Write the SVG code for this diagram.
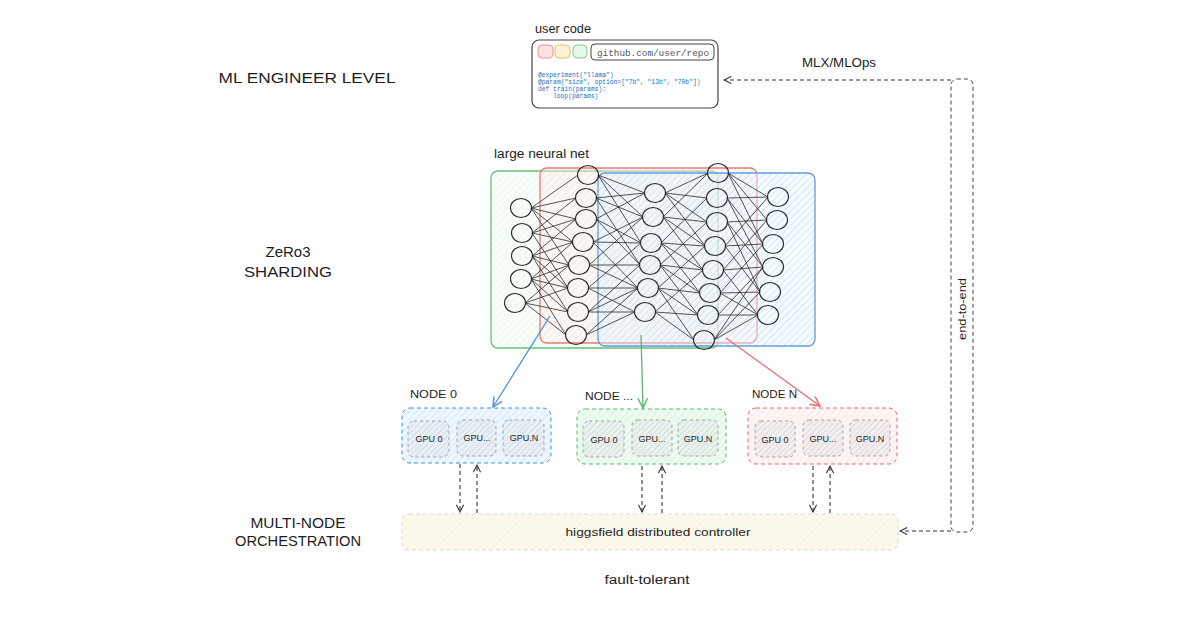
<svg xmlns="http://www.w3.org/2000/svg" width="1200" height="630" viewBox="0 0 1200 630">
<style>
.t{font-family:"Liberation Sans","DejaVu Sans",sans-serif;fill:#1e1e1e}
.m{font-family:"Liberation Mono","DejaVu Sans Mono",monospace}
.nn{fill:none;stroke:#2b2b2b;stroke-width:1;stroke-opacity:0.8}
.neu{fill:none;stroke:#2b2b2b;stroke-width:1.1}
.dash{fill:none;stroke:#333;stroke-width:1.1;stroke-dasharray:4 3}
.gpu{fill:url(#hGray);stroke:#9a9a9a;stroke-width:0.9;stroke-dasharray:3 3}
</style>
<defs>
<pattern id="hG" width="5" height="5" patternUnits="userSpaceOnUse" patternTransform="rotate(45)"><rect width="5" height="5" fill="#f3fbf4" fill-opacity="0.5"/><line x1="0" y1="0" x2="0" y2="5" stroke="#b2f2bb" stroke-width="0.8" stroke-opacity="0.7"/></pattern>
<pattern id="hR" width="5" height="5" patternUnits="userSpaceOnUse" patternTransform="rotate(45)"><rect width="5" height="5" fill="#fff5f5" fill-opacity="0.4"/><line x1="2" y1="0" x2="2" y2="5" stroke="#ffc9c9" stroke-width="0.8" stroke-opacity="0.6"/></pattern>
<pattern id="hB" width="5" height="5" patternUnits="userSpaceOnUse" patternTransform="rotate(45)"><rect width="5" height="5" fill="#f1f8ff" fill-opacity="0.4"/><line x1="3.5" y1="0" x2="3.5" y2="5" stroke="#a5d8ff" stroke-width="0.8" stroke-opacity="0.7"/></pattern>
<pattern id="nB" width="5" height="5" patternUnits="userSpaceOnUse" patternTransform="rotate(45)"><rect width="5" height="5" fill="#eef7ff"/><line x1="0" y1="0" x2="0" y2="5" stroke="#b9e0ff" stroke-width="1"/></pattern>
<pattern id="nG" width="5" height="5" patternUnits="userSpaceOnUse" patternTransform="rotate(45)"><rect width="5" height="5" fill="#eefbf0"/><line x1="0" y1="0" x2="0" y2="5" stroke="#c3f3ca" stroke-width="1"/></pattern>
<pattern id="nR" width="5" height="5" patternUnits="userSpaceOnUse" patternTransform="rotate(45)"><rect width="5" height="5" fill="#fff5f5"/><line x1="0" y1="0" x2="0" y2="5" stroke="#ffdada" stroke-width="1"/></pattern>
<pattern id="hGray" width="4" height="4" patternUnits="userSpaceOnUse" patternTransform="rotate(45)"><rect width="4" height="4" fill="#e9ecef" fill-opacity="0.5"/><line x1="0" y1="0" x2="0" y2="4" stroke="#bbbbbb" stroke-width="0.8"/></pattern>
<pattern id="hC" width="5" height="5" patternUnits="userSpaceOnUse" patternTransform="rotate(45)"><rect width="5" height="5" fill="#fdf8ec"/><line x1="0" y1="0" x2="0" y2="5" stroke="#f6efdc" stroke-width="1"/></pattern>
<marker id="aK" viewBox="0 0 10 10" refX="9" refY="5" markerWidth="9" markerHeight="9" orient="auto" markerUnits="userSpaceOnUse"><path d="M1,1 L9,5 L1,9" fill="none" stroke="#333" stroke-width="1.2"/></marker>
<marker id="aB" viewBox="0 0 10 10" refX="9" refY="5" markerWidth="12" markerHeight="12" orient="auto" markerUnits="userSpaceOnUse"><path d="M1,1 L9,5 L1,9" fill="none" stroke="#4a90d9" stroke-width="1.2"/></marker>
<marker id="aG" viewBox="0 0 10 10" refX="9" refY="5" markerWidth="12" markerHeight="12" orient="auto" markerUnits="userSpaceOnUse"><path d="M1,1 L9,5 L1,9" fill="none" stroke="#5cb868" stroke-width="1.2"/></marker>
<marker id="aR" viewBox="0 0 10 10" refX="9" refY="5" markerWidth="12" markerHeight="12" orient="auto" markerUnits="userSpaceOnUse"><path d="M1,1 L9,5 L1,9" fill="none" stroke="#e56b6b" stroke-width="1.2"/></marker>
</defs>
<rect width="1200" height="630" fill="#ffffff"/>

<g id="labels">
<text class="t" x="307" y="83" font-size="15" text-anchor="middle" textLength="177" lengthAdjust="spacingAndGlyphs">ML ENGINEER LEVEL</text>
<text class="t" x="288" y="257" font-size="15" text-anchor="middle">ZeRo3</text>
<text class="t" x="288" y="277" font-size="15" text-anchor="middle" textLength="88" lengthAdjust="spacingAndGlyphs">SHARDING</text>
<text class="t" x="298" y="528" font-size="14" text-anchor="middle" textLength="95" lengthAdjust="spacingAndGlyphs">MULTI-NODE</text>
<text class="t" x="298" y="546" font-size="14" text-anchor="middle" textLength="126" lengthAdjust="spacingAndGlyphs">ORCHESTRATION</text>
<text class="t" x="839" y="67" font-size="13" text-anchor="middle" textLength="74" lengthAdjust="spacingAndGlyphs">MLX/MLOps</text>
<text class="t" x="647" y="584" font-size="12" text-anchor="middle" textLength="85" lengthAdjust="spacingAndGlyphs">fault-tolerant</text>
</g>

<g id="user-code">
<text class="t" x="535" y="33" font-size="13" textLength="56" lengthAdjust="spacingAndGlyphs">user code</text>
<rect x="532" y="40" width="186" height="68" rx="7" fill="#ffffff" stroke="#444" stroke-width="1.2"/>
<rect x="538" y="45" width="15" height="13" rx="4" fill="#ffe3e3" stroke="#e58a8a" stroke-width="0.9"/>
<rect x="555" y="45" width="15" height="13" rx="4" fill="#fff3d6" stroke="#f0b35a" stroke-width="0.9"/>
<rect x="573" y="45" width="14" height="13" rx="4" fill="#e6f8e9" stroke="#7cc487" stroke-width="0.9"/>
<rect x="591" y="44" width="123" height="16" rx="4" fill="#ffffff" stroke="#444" stroke-width="1"/>
<text class="m" x="597" y="56" font-size="9.4" fill="#555" textLength="112" lengthAdjust="spacingAndGlyphs">github.com/user/repo</text>
<g class="m" font-size="6.3" fill="#1971c2">
<text x="538" y="77">@experiment("llama")</text>
<text x="538" y="84">@param("size", option=["7b", "13b", "70b"])</text>
<text x="538" y="91">def train(params):</text>
<text x="553" y="98">loop(params)</text>
</g>
</g>

<g id="neural-net">
<text class="t" x="494" y="158" font-size="12.5" textLength="95" lengthAdjust="spacingAndGlyphs">large neural net</text>
<rect x="491" y="171" width="227" height="177" rx="7" fill="url(#hG)" stroke="#6bbf78" stroke-width="1.3"/>
<rect x="540" y="168" width="217" height="175" rx="7" fill="url(#hR)" stroke="#e57b7b" stroke-width="1.3"/>
<rect x="598" y="173" width="217" height="173" rx="7" fill="url(#hB)" stroke="#5d9de0" stroke-width="1.3"/>
<path class="nn" d="M531 208L578 175M531 208L576 198M531 208L576 219M531 208L573 242M531 208L569 265
M532 233L576 198M532 233L576 219M532 233L573 242M532 233L568 288
M532 256L576 219M532 256L573 242M532 256L569 265M532 256L568 288M532 256L568 312
M531 279L573 242M531 279L569 265M531 279L568 288M531 279L568 312M531 279L566 335
M525 303L569 265M525 303L568 288M525 303L568 312M525 303L566 335"/>
<path class="nn" d="M598 175L645 193M598 175L643 217M598 175L641 243
M596 198L645 193M596 198L643 217M596 198L640 265
M596 219L645 193M596 219L641 243M596 219L640 265
M593 242L643 217M593 242L641 243M593 242L638 288
M589 265L643 217M589 265L640 265M589 265L638 288
M588 288L641 243M588 288L638 288M588 288L635 312
M588 312L640 265M588 312L638 288M588 312L635 312
M586 335L638 288M586 335L635 312"/>
<path class="nn" d="M665 193L708 173M665 193L707 198M665 193L707 222M665 193L705 246
M663 217L708 173M663 217L707 222M663 217L705 246M663 217L703 270
M661 243L707 198M661 243L705 246M661 243L703 270M661 243L700 293
M660 265L707 222M660 265L703 270M660 265L700 293M660 265L698 315
M658 288L705 246M658 288L700 293M658 288L698 315M658 288L694 340
M655 312L703 270M655 312L698 315M655 312L694 340"/>
<path class="nn" d="M728 173L768 197M728 173L767 220M728 173L763 244
M727 198L768 197M727 198L763 244M727 198L763 267
M727 222L767 220M727 222L763 267M727 222L760 292
M725 246L768 197M725 246L763 244M725 246L760 292
M723 270L767 220M723 270L763 267M723 270L758 315
M720 293L763 244M720 293L760 292M720 293L758 315
M718 315L763 267M718 315L758 315
M714 340L763 267M714 340L760 292M714 340L758 315"/>
<g class="neu">
<ellipse cx="521" cy="208" rx="10.5" ry="9.5"/><ellipse cx="522" cy="233" rx="10.5" ry="9.5"/><ellipse cx="522" cy="256" rx="10.5" ry="9.5"/><ellipse cx="521" cy="279" rx="10.5" ry="9.5"/><ellipse cx="515" cy="303" rx="10.5" ry="9.5"/>
<ellipse cx="588" cy="175" rx="10.5" ry="9.5"/><ellipse cx="586" cy="198" rx="10.5" ry="9.5"/><ellipse cx="586" cy="219" rx="10.5" ry="9.5"/><ellipse cx="583" cy="242" rx="10.5" ry="9.5"/><ellipse cx="579" cy="265" rx="10.5" ry="9.5"/><ellipse cx="578" cy="288" rx="10.5" ry="9.5"/><ellipse cx="578" cy="312" rx="10.5" ry="9.5"/><ellipse cx="576" cy="335" rx="10.5" ry="9.5"/>
<ellipse cx="655" cy="193" rx="10.5" ry="9.5"/><ellipse cx="653" cy="217" rx="10.5" ry="9.5"/><ellipse cx="651" cy="243" rx="10.5" ry="9.5"/><ellipse cx="650" cy="265" rx="10.5" ry="9.5"/><ellipse cx="648" cy="288" rx="10.5" ry="9.5"/><ellipse cx="645" cy="312" rx="10.5" ry="9.5"/>
<ellipse cx="718" cy="173" rx="10.5" ry="9.5"/><ellipse cx="717" cy="198" rx="10.5" ry="9.5"/><ellipse cx="717" cy="222" rx="10.5" ry="9.5"/><ellipse cx="715" cy="246" rx="10.5" ry="9.5"/><ellipse cx="713" cy="270" rx="10.5" ry="9.5"/><ellipse cx="710" cy="293" rx="10.5" ry="9.5"/><ellipse cx="708" cy="315" rx="10.5" ry="9.5"/><ellipse cx="704" cy="340" rx="10.5" ry="9.5"/>
<ellipse cx="778" cy="197" rx="10.5" ry="9.5"/><ellipse cx="777" cy="220" rx="10.5" ry="9.5"/><ellipse cx="773" cy="244" rx="10.5" ry="9.5"/><ellipse cx="773" cy="267" rx="10.5" ry="9.5"/><ellipse cx="770" cy="292" rx="10.5" ry="9.5"/><ellipse cx="768" cy="315" rx="10.5" ry="9.5"/>
</g>
</g>

<g id="node-0">
<text class="t" x="410" y="398" font-size="11.5" textLength="47" lengthAdjust="spacingAndGlyphs">NODE 0</text>
<rect x="402" y="408" width="149" height="55" rx="8" fill="url(#nB)" stroke="#4a90d9" stroke-width="1" stroke-dasharray="4 3"/>
<rect class="gpu" x="408" y="421" width="41" height="36" rx="6"/>
<rect class="gpu" x="457" y="420" width="39" height="36" rx="6"/>
<rect class="gpu" x="503" y="420" width="41" height="36" rx="6"/>
<g class="t" font-size="9" text-anchor="middle"><text x="429" y="442">GPU 0</text><text x="477" y="441">GPU...</text><text x="524" y="441">GPU.N</text></g>
</g>

<g id="node-mid">
<text class="t" x="585" y="400" font-size="11.5" textLength="48" lengthAdjust="spacingAndGlyphs">NODE ...</text>
<rect x="577" y="409" width="149" height="55" rx="8" fill="url(#nG)" stroke="#5cb868" stroke-width="1" stroke-dasharray="4 3"/>
<rect class="gpu" x="583" y="421" width="41" height="36" rx="6"/>
<rect class="gpu" x="632" y="420" width="40" height="36" rx="6"/>
<rect class="gpu" x="678" y="420" width="40" height="36" rx="6"/>
<g class="t" font-size="9" text-anchor="middle"><text x="604" y="443">GPU 0</text><text x="652" y="442">GPU...</text><text x="698" y="442">GPU.N</text></g>
</g>

<g id="node-n">
<text class="t" x="752" y="398" font-size="11.5" textLength="45" lengthAdjust="spacingAndGlyphs">NODE N</text>
<rect x="748" y="408" width="149" height="56" rx="8" fill="url(#nR)" stroke="#e56b6b" stroke-width="1" stroke-dasharray="4 3"/>
<rect class="gpu" x="755" y="421" width="40" height="36" rx="6"/>
<rect class="gpu" x="803" y="420" width="40" height="36" rx="6"/>
<rect class="gpu" x="850" y="420" width="40" height="36" rx="6"/>
<g class="t" font-size="9" text-anchor="middle"><text x="775" y="443">GPU 0</text><text x="823" y="442">GPU...</text><text x="870" y="442">GPU.N</text></g>
</g>

<g id="controller">
<rect x="402" y="514" width="496" height="36" rx="7" fill="url(#hC)" stroke="#d8d8d8" stroke-width="1" stroke-dasharray="4 3"/>
<text class="t" x="658" y="536" font-size="11.5" text-anchor="middle" textLength="185" lengthAdjust="spacingAndGlyphs">higgsfield distributed controller</text>
</g>

<g id="end-to-end">
<rect x="951" y="79" width="22" height="453" rx="6" fill="none" stroke="#444" stroke-width="1" stroke-dasharray="4 3"/>
<text class="t" x="0" y="0" font-size="11" text-anchor="middle" textLength="62" lengthAdjust="spacingAndGlyphs" transform="translate(966 309) rotate(-90)">end-to-end</text>
</g>

<g id="connectors">
<line x1="550" y1="316" x2="493" y2="407" stroke="#4a90d9" stroke-width="1.3" marker-end="url(#aB)"/>
<line x1="641" y1="335" x2="643" y2="408" stroke="#5cb868" stroke-width="1.3" marker-end="url(#aG)"/>
<line x1="726" y1="338" x2="820" y2="406" stroke="#e56b6b" stroke-width="1.3" marker-end="url(#aR)"/>
<line class="dash" x1="460" y1="464" x2="460" y2="512" marker-end="url(#aK)"/>
<line class="dash" x1="477" y1="513" x2="477" y2="465" marker-end="url(#aK)"/>
<line class="dash" x1="642" y1="466" x2="642" y2="512" marker-end="url(#aK)"/>
<line class="dash" x1="662" y1="513" x2="662" y2="466" marker-end="url(#aK)"/>
<line class="dash" x1="813" y1="466" x2="813" y2="512" marker-end="url(#aK)"/>
<line class="dash" x1="830" y1="513" x2="830" y2="466" marker-end="url(#aK)"/>
<line class="dash" x1="951" y1="80" x2="724" y2="80" marker-end="url(#aK)"/>
<line class="dash" x1="951" y1="531" x2="900" y2="531" marker-end="url(#aK)"/>
</g>
</svg>
